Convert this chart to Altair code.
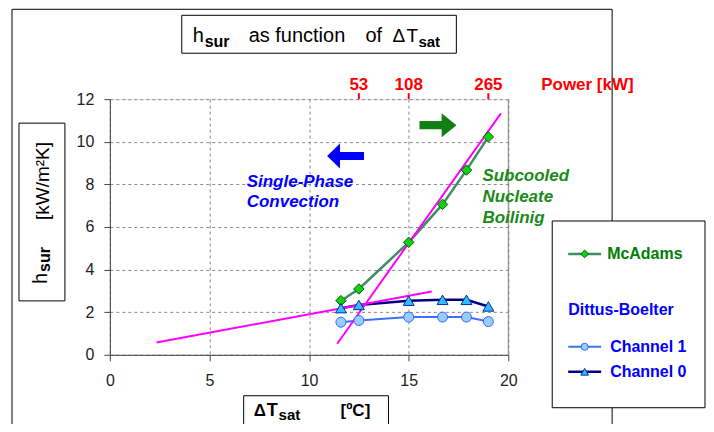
import altair as alt
import pandas as pd

# ---------------- data ----------------
dT = [11.6, 12.5, 15.0, 16.7, 17.9, 19.0]
h_mcadams = [2.54, 3.09, 5.28, 7.06, 8.67, 10.23]
h_ch0 = [2.19, 2.34, 2.54, 2.58, 2.58, 2.27]
h_ch1 = [1.53, 1.61, 1.77, 1.77, 1.77, 1.56]

sp_x = [2.34, 16.16]      # single-phase trend line
sp_y = [0.58, 2.97]
nb_x = [11.41, 19.63]     # nucleate boiling trend line
nb_y = [0.52, 11.33]

power_dT = [12.5, 15.0, 19.0]
power_labels = ["53", "108", "265"]

blue_text = ["Single-Phase", "Convection"]
blue_text_x = [6.87, 6.87]
blue_text_y = [7.88, 6.94]
green_text = ["Subcooled", "Nucleate", "Boilinig"]
green_text_x = [18.70, 18.70, 18.70]
green_text_y = [8.16, 7.17, 6.19]

arrow_x = [11.83, 16.47]
arrow_y = [9.33, 10.78]

# ---------------- layout ----------------
W, H = 399, 256
FONT = "Liberation Sans"
one = pd.DataFrame({"a": [0]})

xs = alt.Scale(domain=[0, 20], nice=False, zero=False)
ys = alt.Scale(domain=[0, 12], nice=False)

x_axis = alt.Axis(values=[0, 5, 10, 15, 20], title=None, grid=True, gridDash=[3, 3],
                  gridColor="#8a8a8a", domainColor="#444", tickColor="#444", tickSize=6,
                  labelFontSize=16, labelColor="#222", labelPadding=12, labelFont=FONT,
                  labelFlush=False)
y_axis = alt.Axis(values=[0, 2, 4, 6, 8, 10, 12], title=None, grid=True, gridDash=[3, 3],
                  gridColor="#8a8a8a", domainColor="#444", tickColor="#444", tickSize=6,
                  labelFontSize=16, labelColor="#222", labelPadding=10, labelFont=FONT)

XE = alt.X("x:Q", scale=xs, axis=x_axis)
YE = alt.Y("y:Q", scale=ys, axis=y_axis)


def txt(s, px, py, size, color="black", bold=False, italic=False, angle=0,
        align="left", baseline="alphabetic"):
    kw = dict(text=s, font=FONT, fontSize=size, color=color, align=align, baseline=baseline,
              fontWeight="bold" if bold else "normal",
              fontStyle="italic" if italic else "normal")
    if angle:
        kw["angle"] = angle
    return alt.Chart(one).mark_text(**kw).encode(x=alt.value(px), y=alt.value(py))


def box(x1, y1, x2, y2, fill="transparent", stroke="black", sw=1):
    return alt.Chart(one).mark_rect(fill=fill, stroke=stroke, strokeWidth=sw).encode(
        x=alt.value(x1), x2=alt.value(x2), y=alt.value(y1), y2=alt.value(y2))


# outer frame and title box
frame = box(-98, -90, 503, 345)
title_box = box(72, -84, 347, -46, fill="white")
title = [
    txt("h", 83, -57, 20),
    txt("sur", 95, -52, 16, bold=True),
    txt("as function", 139, -57, 20),
    txt("of", 256, -57, 20),
    txt("Δ", 283, -57, 19),
    txt("T", 297, -57, 19),
    txt("sat", 309, -52, 15, bold=True),
]

# y title
ytitle_box = box(-91, 24, -45, 202, fill="white")
ytitle = [
    txt("h", -63, 185, 20, angle=270),
    txt("sur", -60, 173, 16, bold=True, angle=270),
    txt("[kW/m²K]", -61, 121, 19, angle=270),
]

# x title
xtitle_box = box(134, 297, 279, 330, fill="white")
xtitle = [
    txt("Δ", 144, 317, 17, bold=True),
    txt("T", 157, 317, 18, bold=True),
    txt("sat", 169, 321, 15, bold=True),
    txt("[ºC]", 231, 317, 17, bold=True),
]

# trend lines (also carry the axes)
trend = pd.DataFrame({
    "x": sp_x + nb_x,
    "y": sp_y + nb_y,
    "line": ["sp", "sp", "nb", "nb"],
})
trend_layer = alt.Chart(trend).mark_line(color="#ff00ff", strokeWidth=2).encode(
    x=XE, y=YE, detail="line:N")
right_border = alt.Chart(pd.DataFrame({"x": [20]})).mark_rule(
    color="#8a8a8a", strokeWidth=1).encode(x=XE)

series = pd.DataFrame({
    "x": dT * 3,
    "y": h_mcadams + h_ch0 + h_ch1,
    "s": ["McAdams"] * 6 + ["Channel 0"] * 6 + ["Channel 1"] * 6,
})


def sline(name, color, sw):
    return alt.Chart(series).transform_filter(alt.datum.s == name).mark_line(
        color=color, strokeWidth=sw).encode(x=XE, y=YE)


def spoint(name, shape, fill, stroke, size):
    return alt.Chart(series).transform_filter(alt.datum.s == name).mark_point(
        shape=shape, filled=True, fill=fill, stroke=stroke, strokeWidth=1, size=size,
        opacity=1).encode(x=XE, y=YE)


C_MC_LINE, C_MC_FILL, C_MC_STROKE = "#3d8f60", "#10d010", "#0a5a0a"
C_C0_LINE, C_C0_FILL, C_C0_STROKE = "#000080", "#33bbff", "#003399"
C_C1_LINE, C_C1_FILL, C_C1_STROKE = "#3f6fff", "#99ccff", "#3366ff"

lines = [sline("McAdams", C_MC_LINE, 2.5), sline("Channel 0", C_C0_LINE, 2.5),
         sline("Channel 1", C_C1_LINE, 2)]
points = [spoint("McAdams", "diamond", C_MC_FILL, C_MC_STROKE, 110),
          spoint("Channel 0", "triangle-up", C_C0_FILL, C_C0_STROKE, 120),
          spoint("Channel 1", "circle", C_C1_FILL, C_C1_STROKE, 100)]

# power axis on top
pw = pd.DataFrame({"x": power_dT, "t": power_labels})
power_ticks = alt.Chart(pw).mark_rule(color="red", strokeWidth=2).encode(
    x=XE, y=alt.value(-6), y2=alt.value(0))
power_text = alt.Chart(pw).mark_text(color="red", font=FONT, fontSize=17, fontWeight="bold",
                                     baseline="alphabetic").encode(
    x=XE, y=alt.value(-9), text="t:N")
power_title = txt("Power [kW]", 432, -9, 17, color="red", bold=True)

# annotations
ann_b = pd.DataFrame({"x": blue_text_x, "y": blue_text_y, "t": blue_text})
ann_g = pd.DataFrame({"x": green_text_x, "y": green_text_y, "t": green_text})
ann_blue = alt.Chart(ann_b).mark_text(color="#0000ff", font=FONT, fontSize=17, fontWeight="bold",
                                      fontStyle="italic", align="left",
                                      baseline="alphabetic").encode(x=XE, y=YE, text="t:N")
ann_green = alt.Chart(ann_g).mark_text(color="#1a8a1a", font=FONT, fontSize=17, fontWeight="bold",
                                       fontStyle="italic", align="left",
                                       baseline="alphabetic").encode(x=XE, y=YE, text="t:N")

LEFT_ARROW = "M -1 0 L -0.3 -0.68 L -0.3 -0.22 L 1 -0.22 L 1 0.22 L -0.3 0.22 L -0.3 0.68 Z"
RIGHT_ARROW = "M 1 0 L 0.2 -0.65 L 0.2 -0.22 L -1 -0.22 L -1 0.22 L 0.2 0.22 L 0.2 0.65 Z"
arr = pd.DataFrame({"x": arrow_x, "y": arrow_y, "k": ["blue", "green"]})
arrow_blue = alt.Chart(arr).transform_filter(alt.datum.k == "blue").mark_point(
    shape=LEFT_ARROW, filled=True, color="#0000ff", size=1369, opacity=1).encode(x=XE, y=YE)
arrow_green = alt.Chart(arr).transform_filter(alt.datum.k == "green").mark_point(
    shape=RIGHT_ARROW, filled=True, color="#127f12", size=1369, opacity=1).encode(x=XE, y=YE)

# legend
leg_box = box(443, 122, 596, 309, fill="white")


def leg_rule(y, color, sw):
    return alt.Chart(one).mark_rule(color=color, strokeWidth=sw).encode(
        x=alt.value(459), x2=alt.value(492), y=alt.value(y))


def leg_pt(y, shape, fill, stroke, size):
    return alt.Chart(one).mark_point(shape=shape, filled=True, fill=fill, stroke=stroke,
                                     strokeWidth=1, size=size, opacity=1).encode(
        x=alt.value(475.5), y=alt.value(y))


legend = [
    leg_box,
    leg_rule(155, C_MC_LINE, 2.5), leg_pt(155, "diamond", C_MC_FILL, C_MC_STROKE, 60),
    txt("McAdams", 498, 155, 16, color="#008000", bold=True, baseline="middle"),
    txt("Dittus-Boelter", 459, 211, 16, color="#0000ff", bold=True, baseline="middle"),
    leg_rule(248, C_C1_LINE, 2), leg_pt(248, "circle", C_C1_FILL, C_C1_STROKE, 50),
    txt("Channel 1", 501, 248, 16, color="#0000ff", bold=True, baseline="middle"),
    leg_rule(273, C_C0_LINE, 2.5), leg_pt(273, "triangle-up", C_C0_FILL, C_C0_STROKE, 60),
    txt("Channel 0", 501, 273, 16, color="#0000ff", bold=True, baseline="middle"),
]

layers = ([frame, title_box] + title + [ytitle_box] + ytitle + [xtitle_box] + xtitle +
          [right_border] + lines + [trend_layer] + points +
          [power_ticks, power_text, power_title, ann_blue, ann_green, arrow_blue, arrow_green] +
          legend)

chart = alt.layer(*layers).properties(
    width=W, height=H,
    autosize=alt.AutoSizeParams(type="none"),
    padding={"left": 102, "top": 91, "right": 198, "bottom": 69},
).configure_view(stroke=None).configure(background="white")

chart.save("out.html", embed_options={"renderer": "svg", "actions": False})
